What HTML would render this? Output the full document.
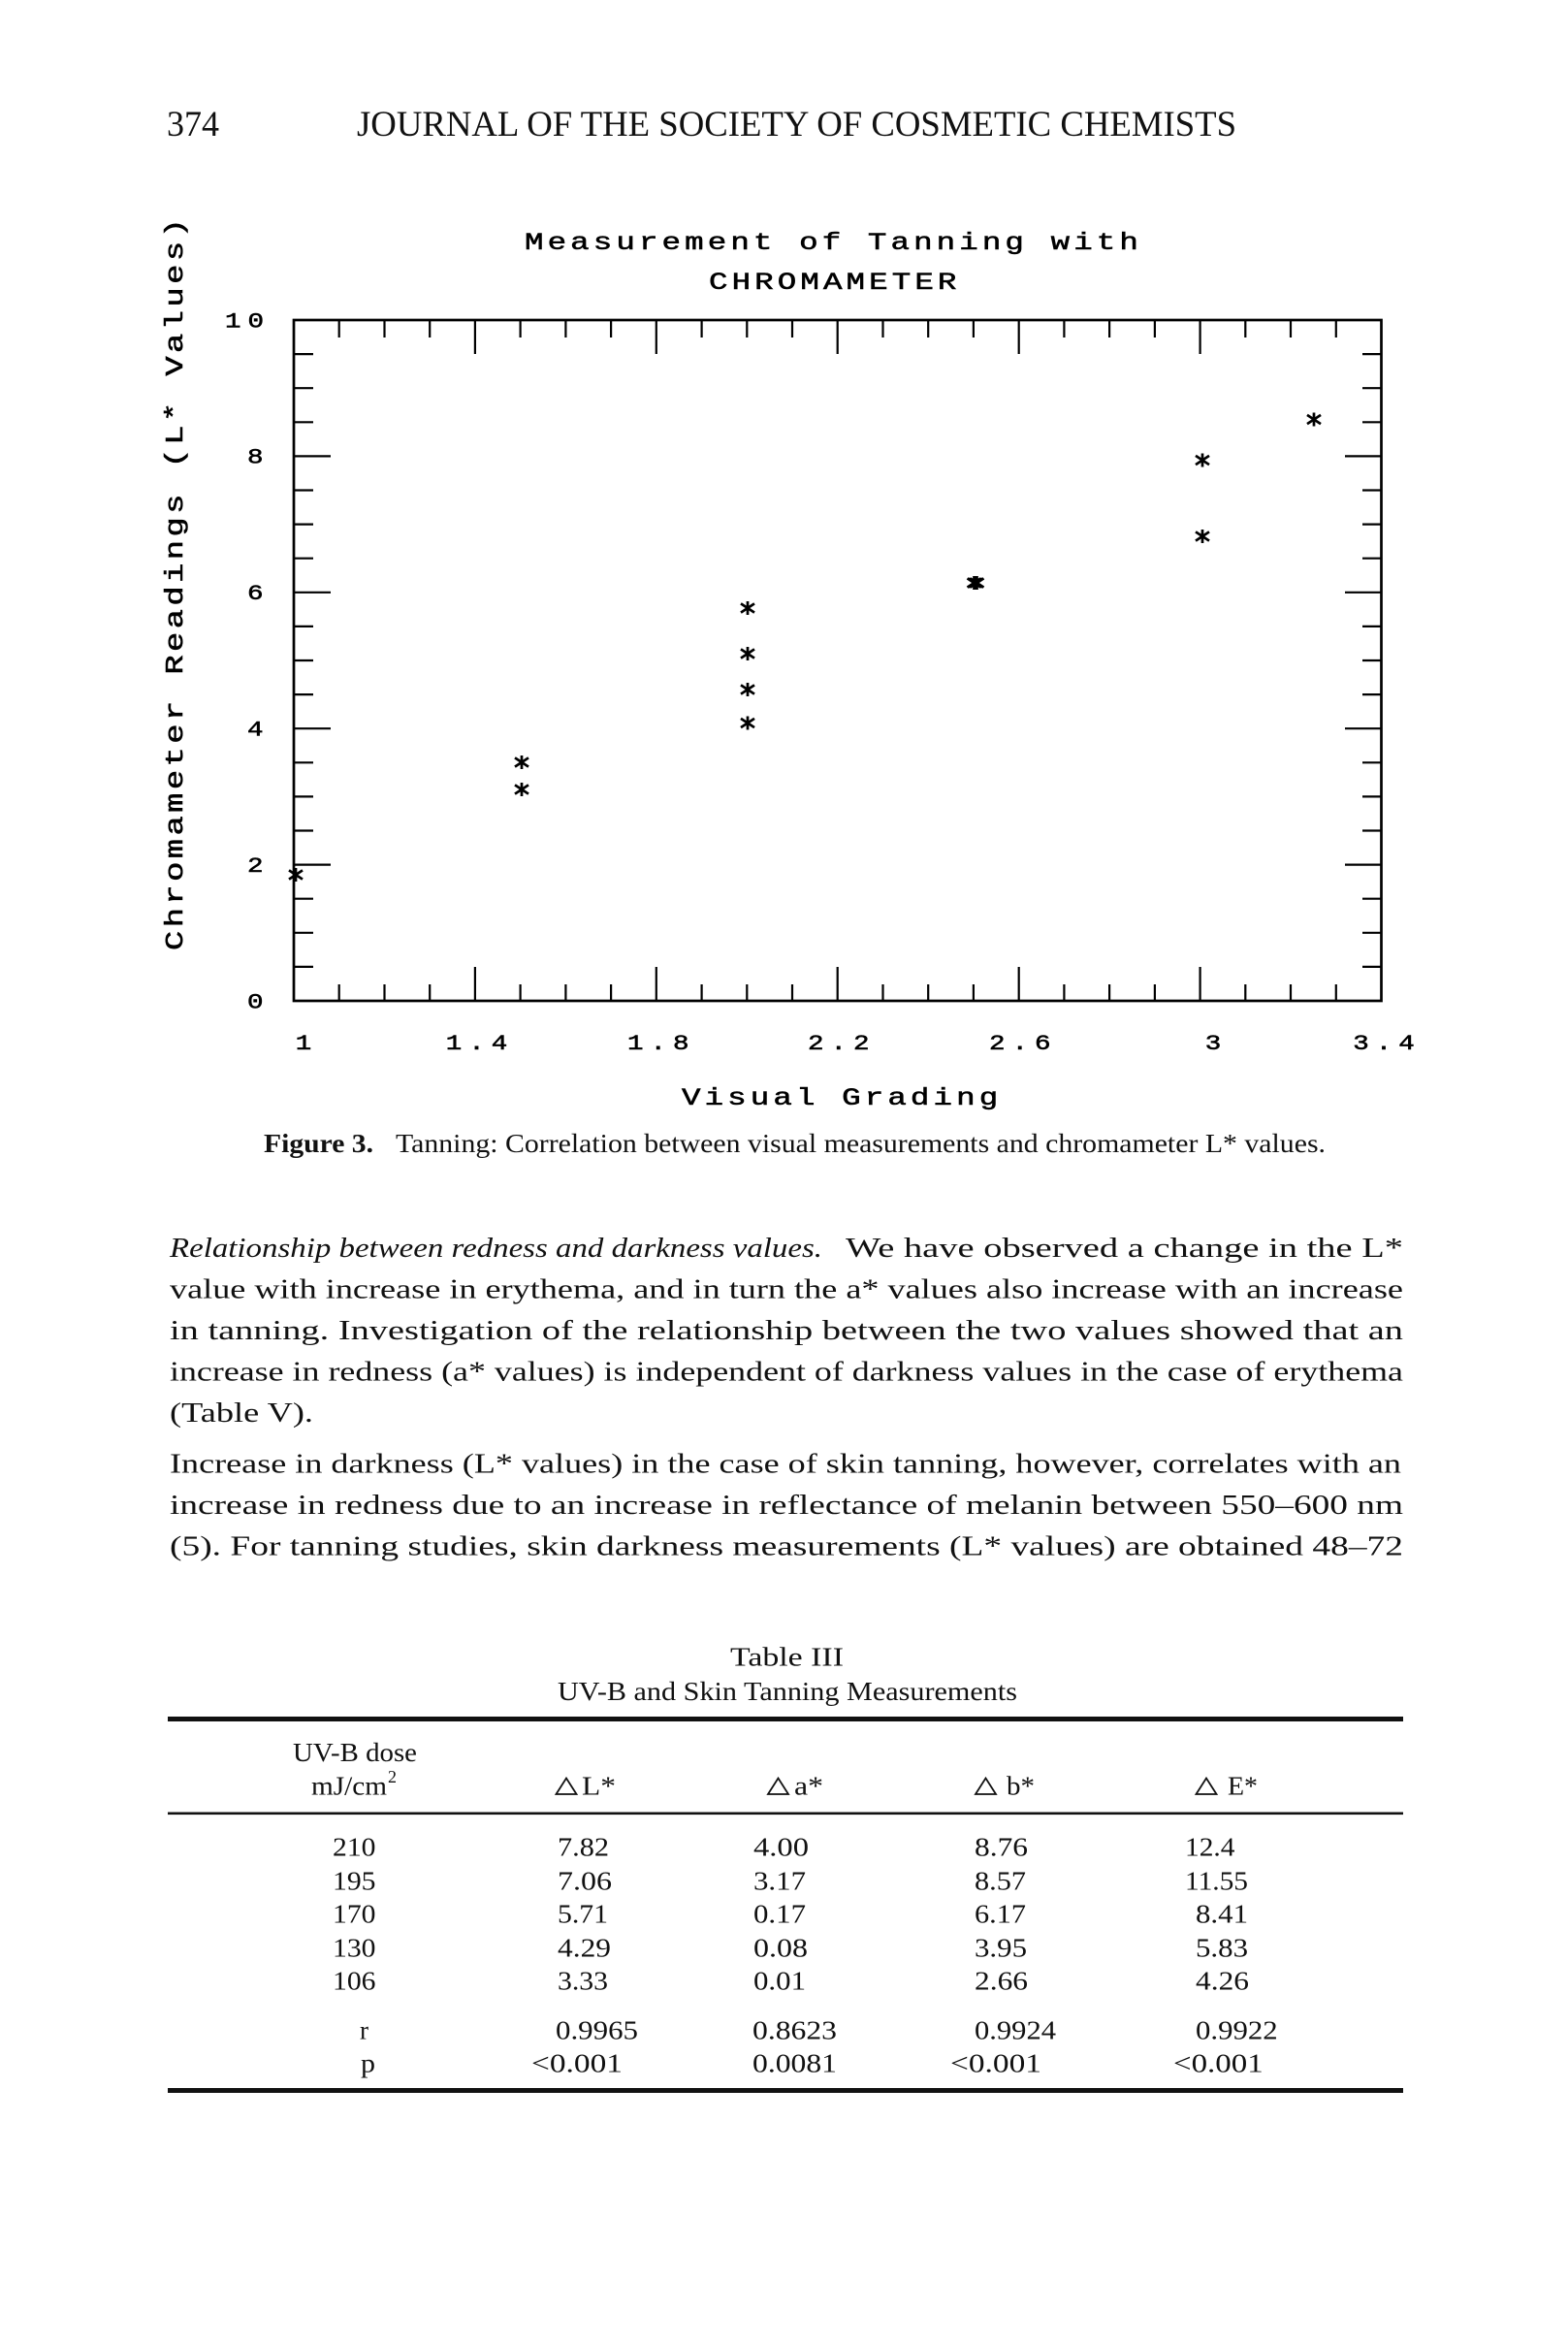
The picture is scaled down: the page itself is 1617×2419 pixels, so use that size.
<!DOCTYPE html>
<html>
<head>
<meta charset="utf-8">
<style>
html,body{margin:0;padding:0;background:#fff;}
svg{display:block;}
.pm{font-family:"Liberation Mono","DejaVu Sans Mono",monospace;fill:#000;stroke:#000;stroke-width:0.55px;}
.sf{font-family:"Liberation Serif","DejaVu Serif",serif;fill:#111;}
</style>
</head>
<body>
<svg width="1617" height="2419" viewBox="0 0 1617 2419" xmlns="http://www.w3.org/2000/svg">
<rect width="1617" height="2419" fill="#fff"/>
<defs>
<g id="ast"><path d="M0,-7V7M-7,-4.6L7,4.6M-7,4.6L7,-4.6" stroke="#000" stroke-width="2.7" fill="none"/></g>
</defs>

<!-- Header -->
<text class="sf" x="172" y="140" font-size="37" textLength="54" lengthAdjust="spacingAndGlyphs">374</text>
<text class="sf" x="368" y="140" font-size="37" textLength="907" lengthAdjust="spacingAndGlyphs">JOURNAL OF THE SOCIETY OF COSMETIC CHEMISTS</text>

<!-- Chart title -->
<text class="pm" transform="translate(541,257) scale(1.3,1)" font-size="25" style="letter-spacing:3.15px">Measurement of Tanning with</text>
<text class="pm" transform="translate(731,298) scale(1.3,1)" font-size="25" style="letter-spacing:3.15px">CHROMAMETER</text>

<!-- Y axis label -->
<text class="pm" transform="translate(188,980) rotate(-90) scale(1.3,1)" font-size="26" style="letter-spacing:2.63px">Chromameter Readings (L* Values)</text>

<!-- Y tick labels -->
<g class="pm" font-size="22" style="letter-spacing:5.6px">
<text transform="translate(232,337.3) scale(1.25,1)">10</text>
<text transform="translate(255,477.7) scale(1.25,1)">8</text>
<text transform="translate(255,618) scale(1.25,1)">6</text>
<text transform="translate(255,758.5) scale(1.25,1)">4</text>
<text transform="translate(255,899) scale(1.25,1)">2</text>
<text transform="translate(255,1039.3) scale(1.25,1)">0</text>
</g>

<!-- X tick labels -->
<g class="pm" font-size="22" style="letter-spacing:5.6px">
<text transform="translate(304.75,1082) scale(1.25,1)">1</text>
<text transform="translate(459.75,1082) scale(1.25,1)">1.4</text>
<text transform="translate(647,1082) scale(1.25,1)">1.8</text>
<text transform="translate(833,1082) scale(1.25,1)">2.2</text>
<text transform="translate(1020,1082) scale(1.25,1)">2.6</text>
<text transform="translate(1242.75,1082) scale(1.25,1)">3</text>
<text transform="translate(1395.3,1082) scale(1.25,1)">3.4</text>
</g>

<!-- X axis title -->
<text class="pm" transform="translate(703,1139) scale(1.3,1)" font-size="25" style="letter-spacing:3.15px">Visual Grading</text>

<!-- Plot frame -->
<rect x="303" y="330" width="1121.5" height="702" fill="none" stroke="#000" stroke-width="2.7"/>

<!-- Ticks -->
<path stroke="#000" stroke-width="2.2" fill="none" d="
M349.7,1032V1015 M396.5,1032V1015 M443.2,1032V1015 M489.9,1032V997
M536.6,1032V1015 M583.4,1032V1015 M630.1,1032V1015 M676.8,1032V997
M723.6,1032V1015 M770.3,1032V1015 M817.0,1032V1015 M863.7,1032V997
M910.5,1032V1015 M957.2,1032V1015 M1003.9,1032V1015 M1050.7,1032V997
M1097.4,1032V1015 M1144.1,1032V1015 M1190.9,1032V1015 M1237.6,1032V997
M1284.3,1032V1015 M1331.0,1032V1015 M1377.8,1032V1015
M349.7,330V348 M396.5,330V348 M443.2,330V348 M489.9,330V365
M536.6,330V348 M583.4,330V348 M630.1,330V348 M676.8,330V365
M723.6,330V348 M770.3,330V348 M817.0,330V348 M863.7,330V365
M910.5,330V348 M957.2,330V348 M1003.9,330V348 M1050.7,330V365
M1097.4,330V348 M1144.1,330V348 M1190.9,330V348 M1237.6,330V365
M1284.3,330V348 M1331.0,330V348 M1377.8,330V348
M303,996.9H323 M303,961.8H323 M303,926.7H323 M303,891.6H341
M303,856.5H323 M303,821.4H323 M303,786.3H323 M303,751.2H341
M303,716.1H323 M303,681.0H323 M303,645.9H323 M303,610.8H341
M303,575.7H323 M303,540.6H323 M303,505.5H323 M303,470.4H341
M303,435.3H323 M303,400.2H323 M303,365.1H323
M1424.5,996.9H1405 M1424.5,961.8H1405 M1424.5,926.7H1405 M1424.5,891.6H1387
M1424.5,856.5H1405 M1424.5,821.4H1405 M1424.5,786.3H1405 M1424.5,751.2H1387
M1424.5,716.1H1405 M1424.5,681.0H1405 M1424.5,645.9H1405 M1424.5,610.8H1387
M1424.5,575.7H1405 M1424.5,540.6H1405 M1424.5,505.5H1405 M1424.5,470.4H1387
M1424.5,435.3H1405 M1424.5,400.2H1405 M1424.5,365.1H1405
"/>

<!-- Data points -->
<use href="#ast" x="305" y="902"/>
<use href="#ast" x="538" y="786"/>
<use href="#ast" x="538" y="814"/>
<use href="#ast" x="771" y="627"/>
<use href="#ast" x="771" y="674"/>
<use href="#ast" x="771" y="711"/>
<use href="#ast" x="771" y="745.5"/>
<use href="#ast" x="1004.5" y="601"/>
<use href="#ast" x="1007.5" y="601"/>
<use href="#ast" x="1006" y="601"/>
<use href="#ast" x="1240" y="474.5"/>
<use href="#ast" x="1240" y="553"/>
<use href="#ast" x="1355" y="432.5"/>

<!-- Figure caption -->
<text class="sf" x="272" y="1188" font-size="27" font-weight="bold" textLength="113" lengthAdjust="spacingAndGlyphs">Figure 3.</text>
<text class="sf" x="408" y="1188" font-size="27" textLength="959" lengthAdjust="spacingAndGlyphs">Tanning: Correlation between visual measurements and chromameter L* values.</text>

<!-- Body text -->
<g class="sf" font-size="29">
<text x="175" y="1296" font-style="italic" textLength="673" lengthAdjust="spacingAndGlyphs">Relationship between redness and darkness values.</text>
<text x="872" y="1296" textLength="575" lengthAdjust="spacingAndGlyphs">We have observed a change in the L*</text>
<text x="175" y="1338.5" textLength="1272" lengthAdjust="spacingAndGlyphs">value with increase in erythema, and in turn the a* values also increase with an increase</text>
<text x="175" y="1381" textLength="1272" lengthAdjust="spacingAndGlyphs">in tanning. Investigation of the relationship between the two values showed that an</text>
<text x="175" y="1423.5" textLength="1272" lengthAdjust="spacingAndGlyphs">increase in redness (a* values) is independent of darkness values in the case of erythema</text>
<text x="175" y="1466" textLength="148" lengthAdjust="spacingAndGlyphs">(Table V).</text>
<text x="175" y="1518.3" textLength="1270" lengthAdjust="spacingAndGlyphs">Increase in darkness (L* values) in the case of skin tanning, however, correlates with an</text>
<text x="175" y="1560.8" textLength="1272" lengthAdjust="spacingAndGlyphs">increase in redness due to an increase in reflectance of melanin between 550–600 nm</text>
<text x="175" y="1603.3" textLength="1272" lengthAdjust="spacingAndGlyphs">(5). For tanning studies, skin darkness measurements (L* values) are obtained 48–72</text>
</g>

<!-- Table -->
<g class="sf" font-size="27">
<text x="753" y="1717.5" textLength="117" lengthAdjust="spacingAndGlyphs">Table III</text>
<text x="575" y="1753" textLength="474" lengthAdjust="spacingAndGlyphs">UV-B and Skin Tanning Measurements</text>

<text x="302" y="1816" textLength="128" lengthAdjust="spacingAndGlyphs">UV-B dose</text>
<text x="321" y="1850.7" textLength="78" lengthAdjust="spacingAndGlyphs">mJ/cm</text>
<text x="400" y="1838" font-size="18" textLength="9" lengthAdjust="spacingAndGlyphs">2</text>

<text x="600" y="1850.7" textLength="35" lengthAdjust="spacingAndGlyphs">L*</text>
<text x="819" y="1850.7" textLength="30" lengthAdjust="spacingAndGlyphs">a*</text>
<text x="1038" y="1850.7" textLength="29" lengthAdjust="spacingAndGlyphs">b*</text>
<text x="1266" y="1850.7" textLength="31" lengthAdjust="spacingAndGlyphs">E*</text>

<!-- col1 -->
<text x="343" y="1913.3" textLength="44.5" lengthAdjust="spacingAndGlyphs">210</text>
<text x="343" y="1948.3" textLength="44.5" lengthAdjust="spacingAndGlyphs">195</text>
<text x="343" y="1982.7" textLength="44.5" lengthAdjust="spacingAndGlyphs">170</text>
<text x="343" y="2017.3" textLength="44.5" lengthAdjust="spacingAndGlyphs">130</text>
<text x="343" y="2051.7" textLength="44.5" lengthAdjust="spacingAndGlyphs">106</text>
<text x="371" y="2102.5" textLength="9" lengthAdjust="spacingAndGlyphs">r</text>
<text x="372" y="2136.7" textLength="15" lengthAdjust="spacingAndGlyphs">p</text>

<!-- col2 -->
<text x="575" y="1913.3" textLength="53" lengthAdjust="spacingAndGlyphs">7.82</text>
<text x="575" y="1948.3" textLength="56" lengthAdjust="spacingAndGlyphs">7.06</text>
<text x="575" y="1982.7" textLength="52" lengthAdjust="spacingAndGlyphs">5.71</text>
<text x="575" y="2017.3" textLength="55" lengthAdjust="spacingAndGlyphs">4.29</text>
<text x="575" y="2051.7" textLength="52" lengthAdjust="spacingAndGlyphs">3.33</text>
<text x="573" y="2102.5" textLength="85" lengthAdjust="spacingAndGlyphs">0.9965</text>
<text x="548" y="2136.7" textLength="94" lengthAdjust="spacingAndGlyphs">&lt;0.001</text>

<!-- col3 -->
<text x="777" y="1913.3" textLength="57" lengthAdjust="spacingAndGlyphs">4.00</text>
<text x="777" y="1948.3" textLength="54" lengthAdjust="spacingAndGlyphs">3.17</text>
<text x="777" y="1982.7" textLength="54" lengthAdjust="spacingAndGlyphs">0.17</text>
<text x="777" y="2017.3" textLength="56" lengthAdjust="spacingAndGlyphs">0.08</text>
<text x="777" y="2051.7" textLength="54" lengthAdjust="spacingAndGlyphs">0.01</text>
<text x="776" y="2102.5" textLength="87" lengthAdjust="spacingAndGlyphs">0.8623</text>
<text x="776" y="2136.7" textLength="87" lengthAdjust="spacingAndGlyphs">0.0081</text>

<!-- col4 -->
<text x="1005" y="1913.3" textLength="55" lengthAdjust="spacingAndGlyphs">8.76</text>
<text x="1005" y="1948.3" textLength="53" lengthAdjust="spacingAndGlyphs">8.57</text>
<text x="1005" y="1982.7" textLength="53" lengthAdjust="spacingAndGlyphs">6.17</text>
<text x="1005" y="2017.3" textLength="54" lengthAdjust="spacingAndGlyphs">3.95</text>
<text x="1005" y="2051.7" textLength="55" lengthAdjust="spacingAndGlyphs">2.66</text>
<text x="1005" y="2102.5" textLength="84" lengthAdjust="spacingAndGlyphs">0.9924</text>
<text x="980" y="2136.7" textLength="94" lengthAdjust="spacingAndGlyphs">&lt;0.001</text>

<!-- col5 -->
<text x="1222" y="1913.3" textLength="51.5" lengthAdjust="spacingAndGlyphs">12.4</text>
<text x="1222" y="1948.3" textLength="65" lengthAdjust="spacingAndGlyphs">11.55</text>
<text x="1233" y="1982.7" textLength="54" lengthAdjust="spacingAndGlyphs">8.41</text>
<text x="1233" y="2017.3" textLength="54" lengthAdjust="spacingAndGlyphs">5.83</text>
<text x="1233" y="2051.7" textLength="55" lengthAdjust="spacingAndGlyphs">4.26</text>
<text x="1233" y="2102.5" textLength="84.7" lengthAdjust="spacingAndGlyphs">0.9922</text>
<text x="1210" y="2136.7" textLength="92.7" lengthAdjust="spacingAndGlyphs">&lt;0.001</text>
</g>

<!-- Delta triangles -->
<g fill="none" stroke="#111" stroke-width="1.8" stroke-linejoin="miter">
<polygon points="573.5,1850 594.5,1850 584,1833.5"/>
<polygon points="792,1850 813,1850 802.5,1833.5"/>
<polygon points="1006,1850 1027,1850 1016.5,1833.5"/>
<polygon points="1233.5,1850 1254.5,1850 1244,1833.5"/>
</g>

<!-- Table rules -->
<rect x="173" y="1770" width="1274" height="5" fill="#111"/>
<rect x="173" y="1868.5" width="1274" height="2.6" fill="#111"/>
<rect x="173" y="2153" width="1274" height="5" fill="#111"/>
</svg>
</body>
</html>
